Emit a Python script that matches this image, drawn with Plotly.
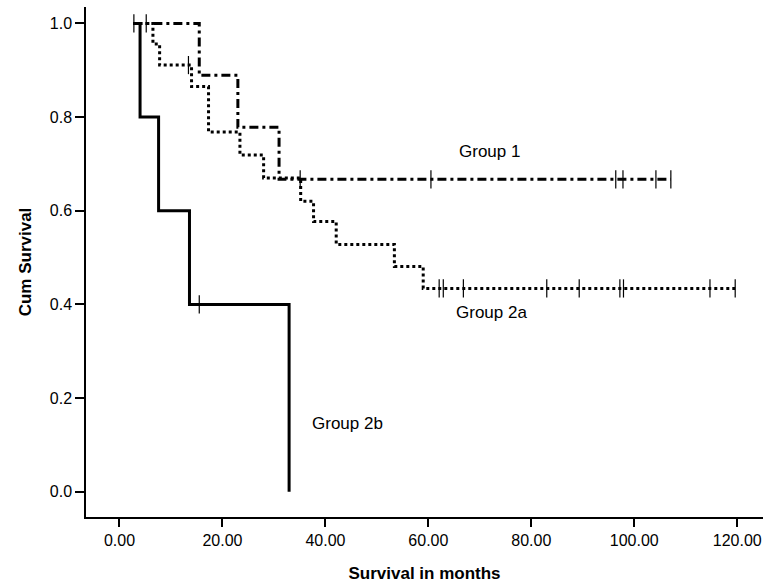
import plotly.graph_objects as go

# Kaplan-Meier step data (time in months, cumulative survival)
g1_time = [2.7, 15.5, 23.0, 31.0, 107.1]
g1_surv = [1.0, 0.889, 0.778, 0.667, 0.667]
g1_cens = [2.8, 5.2, 35.1, 60.5, 96.4, 97.8, 104.2, 107.1]

g2a_time = [2.7, 6.5, 7.8, 14.0, 17.3, 23.4, 28.0, 35.2, 37.7, 42.1, 53.4, 59.0, 119.6]
g2a_surv = [1.0, 0.956, 0.911, 0.865, 0.768, 0.719, 0.670, 0.620, 0.577, 0.528, 0.481, 0.434, 0.434]
g2a_cens = [13.4, 62.1, 62.9, 66.8, 83.0, 89.3, 97.2, 97.9, 114.7, 119.6]

g2b_time = [2.7, 4.0, 7.6, 13.6, 32.95]
g2b_surv = [1.0, 0.8, 0.6, 0.4, 0.0]
g2b_cens = [15.5]

labels = ["Group 1", "Group 2a", "Group 2b"]
label_x = [71.8, 72.2, 44.2]
label_y = [0.726, 0.382, 0.146]

x_ticks = [0, 20, 40, 60, 80, 100, 120]
y_ticks = [0.0, 0.2, 0.4, 0.6, 0.8, 1.0]


def step_at(times, survs, t):
    val = survs[0]
    for ti, si in zip(times, survs):
        if ti <= t:
            val = si
    return val


fig = go.Figure()

series = [
    (g1_time, g1_surv, g1_cens, "9px,4px,3px,4px"),
    (g2a_time, g2a_surv, g2a_cens, "3px,3px"),
    (g2b_time, g2b_surv, g2b_cens, "solid"),
]

for times, survs, cens, dash in series:
    fig.add_trace(go.Scatter(
        x=times, y=survs, mode="lines", line_shape="hv",
        line=dict(color="black", width=3, dash=dash),
        showlegend=False, hoverinfo="skip"))
    fig.add_trace(go.Scatter(
        x=cens, y=[step_at(times, survs, c) for c in cens], mode="markers",
        marker=dict(symbol="line-ns", size=13, line=dict(color="black", width=1.2)),
        showlegend=False, hoverinfo="skip"))

for txt, lx, ly in zip(labels, label_x, label_y):
    fig.add_annotation(x=lx, y=ly, text=txt, showarrow=False,
                       font=dict(family="Liberation Sans, Arial, sans-serif", size=17, color="black"))

fig.update_layout(
    width=763, height=583,
    margin=dict(l=86, r=0, t=7, b=66, autoexpand=False),
    paper_bgcolor="white", plot_bgcolor="white",
    font=dict(family="Liberation Sans, Arial, sans-serif", size=16, color="black"),
    xaxis=dict(
        range=[-6.5, 125], tickvals=x_ticks, tickformat=".2f",
        showline=True, linecolor="black", linewidth=2,
        ticks="outside", ticklen=8, tickwidth=2, tickcolor="black",
        showgrid=False, zeroline=False, automargin=False,
        title=dict(text="<b>Survival in months</b>", font=dict(size=17), standoff=20),
    ),
    yaxis=dict(
        range=[-0.054, 1.035], tickvals=y_ticks, tickformat=".1f",
        showline=True, linecolor="black", linewidth=1.5,
        ticks="outside", ticklen=9, tickwidth=1.5, tickcolor="black",
        showgrid=False, zeroline=False, automargin=False,
        title=dict(text="<b>Cum Survival</b>", font=dict(size=17), standoff=14),
    ),
)

fig.write_html("out.html", config={"displayModeBar": False},
               post_script="document.body.style.margin='0';")
